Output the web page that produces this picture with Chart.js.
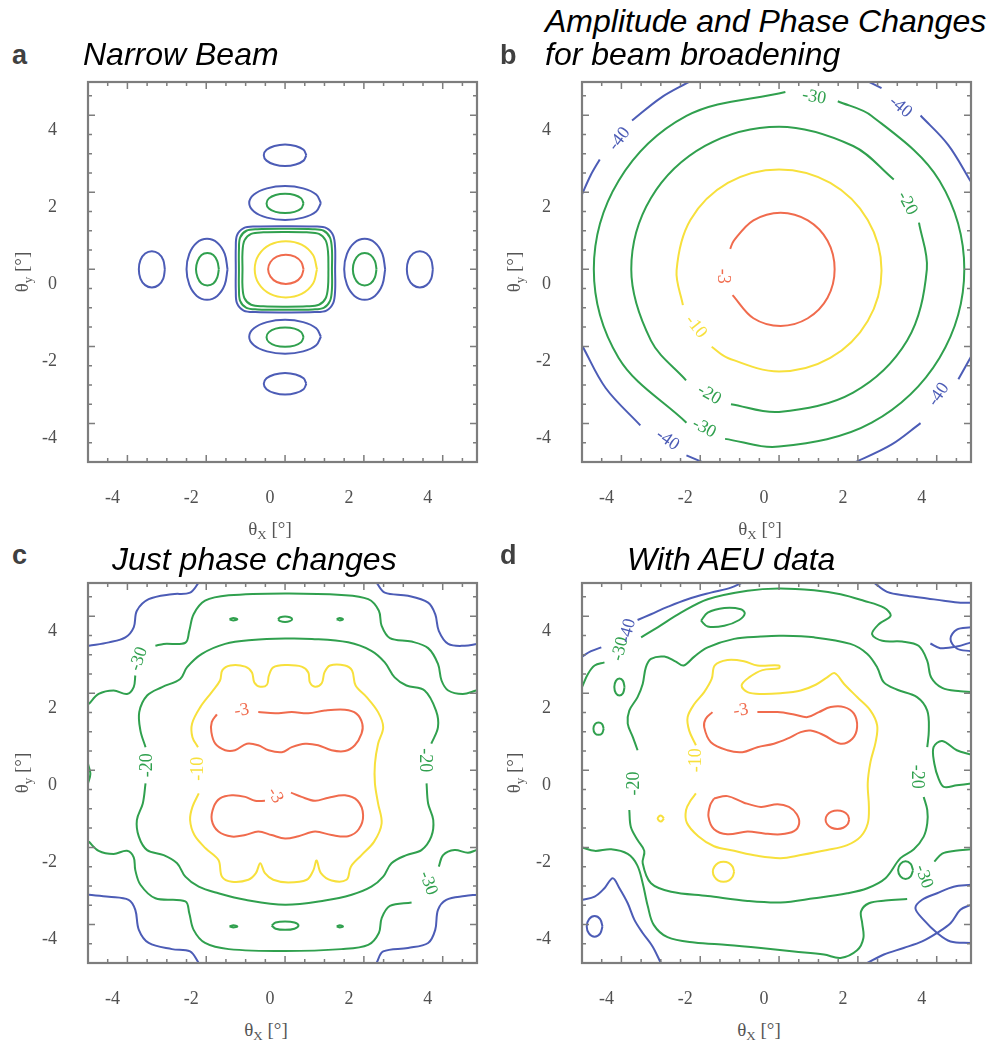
<!DOCTYPE html>
<html><head><meta charset="utf-8">
<script src="https://cdn.jsdelivr.net/npm/chart.js@4.4.1/dist/chart.umd.min.js"></script>
<style>
body{margin:0;background:#fff;width:990px;height:1048px;position:relative;overflow:hidden;font-family:"Liberation Sans",Arial,sans-serif}
canvas{position:absolute;filter:blur(0.5px)}
.ttl{position:absolute;font-style:italic;font-size:32px;color:#000;white-space:nowrap;line-height:1}
.let{position:absolute;font-weight:bold;font-size:27px;color:#404040;line-height:1}
.axx,.axy{position:absolute;font-family:"Liberation Serif","Times New Roman",serif;font-size:19px;color:#555;white-space:nowrap;line-height:20px;text-align:center;width:100px;height:20px}
.axy{transform:rotate(-90deg)}
.axx sub,.axy sub{font-size:13px;vertical-align:-4px;line-height:0}
</style></head>
<body>
<canvas id="pa" width="459" height="440" style="left:28px;top:72px"></canvas>
<canvas id="pb" width="459" height="440" style="left:522px;top:72px"></canvas>
<canvas id="pc" width="459" height="440" style="left:28px;top:573px"></canvas>
<canvas id="pd" width="459" height="440" style="left:522px;top:573px"></canvas>

<div class="let" style="left:12px;top:42px">a</div>
<div class="ttl" style="left:83px;top:38px">Narrow Beam</div>
<div class="let" style="left:500px;top:42px">b</div>
<div class="ttl" style="left:545px;top:5px">Amplitude and Phase Changes</div>
<div class="ttl" style="left:545px;top:38px">for beam broadening</div>
<div class="let" style="left:12px;top:542px">c</div>
<div class="ttl" style="left:112px;top:543px">Just phase changes</div>
<div class="let" style="left:500px;top:542px">d</div>
<div class="ttl" style="left:627px;top:543px">With AEU data</div>

<div class="axx" style="left:220px;top:519px">θ<sub>X</sub> [°]</div>
<div class="axx" style="left:710px;top:519px">θ<sub>X</sub> [°]</div>
<div class="axx" style="left:216px;top:1020px">θ<sub>X</sub> [°]</div>
<div class="axx" style="left:709px;top:1020px">θ<sub>X</sub> [°]</div>
<div class="axy" style="left:-28px;top:262px">θ<sub>y</sub> [°]</div>
<div class="axy" style="left:464px;top:262px">θ<sub>y</sub> [°]</div>
<div class="axy" style="left:-28px;top:763px">θ<sub>y</sub> [°]</div>
<div class="axy" style="left:464px;top:763px">θ<sub>y</sub> [°]</div>

<script>
// Axis ranges and tick labels (degrees)
const xRange = [-5, 4.87];
const yRange = [-5, 4.86];
const xTickValues = [-4, -2, 0, 2, 4];
const yTickValues = [-4, -2, 0, 2, 4];

// Contour level colours (dB)
const levelColors = {'-3': '#f06b4d', '-10': '#f7e03c', '-20': '#30a04e', '-30': '#30a04e', '-40': '#4c5cb6'};

// ---- a: narrow beam ----
const aLobeTopFar = [[.54,2.96],[.47,3.10],[.27,3.20],[0,3.24],[-.27,3.20],[-.47,3.10],[-.54,2.96],[-.47,2.82],[-.27,2.72],[0,2.68],[.27,2.72],[.47,2.82],[.54,2.96]];
const aLobeTop = [[.91,1.72],[.79,1.94],[.46,2.10],[0,2.16],[-.46,2.10],[-.79,1.94],[-.91,1.72],[-.79,1.50],[-.46,1.34],[0,1.28],[.46,1.34],[.79,1.50],[.91,1.72]];
const aLobeTopInner = [[.47,1.71],[.41,1.84],[.24,1.93],[0,1.96],[-.24,1.93],[-.41,1.84],[-.47,1.71],[-.41,1.58],[-.24,1.49],[0,1.46],[.24,1.49],[.41,1.58],[.47,1.71]];
const aLobeBottom = [[.91,-1.75],[.79,-1.53],[.46,-1.37],[0,-1.31],[-.46,-1.37],[-.79,-1.53],[-.91,-1.75],[-.79,-1.97],[-.46,-2.13],[0,-2.19],[.46,-2.13],[.79,-1.97],[.91,-1.75]];
const aLobeBottomInner = [[.47,-1.76],[.41,-1.63],[.24,-1.54],[0,-1.51],[-.24,-1.54],[-.41,-1.63],[-.47,-1.76],[-.41,-1.89],[-.24,-1.98],[0,-2.01],[.24,-1.98],[.41,-1.89],[.47,-1.76]];
const aLobeBottomFar = [[.54,-2.97],[.47,-2.83],[.27,-2.73],[0,-2.69],[-.27,-2.73],[-.47,-2.83],[-.54,-2.97],[-.47,-3.11],[-.27,-3.21],[0,-3.25],[.27,-3.21],[.47,-3.11],[.54,-2.97]];
const aLobeLeftFar = [[-3.05,0],[-3.09,.24],[-3.21,.41],[-3.38,.47],[-3.55,.41],[-3.67,.24],[-3.71,0],[-3.67,-.24],[-3.55,-.41],[-3.38,-.47],[-3.21,-.41],[-3.09,-.24],[-3.05,0]];
const aLobeLeft = [[-1.46,0],[-1.53,.40],[-1.72,.69],[-1.98,.79],[-2.24,.69],[-2.43,.40],[-2.50,0],[-2.43,-.40],[-2.24,-.69],[-1.98,-.79],[-1.72,-.69],[-1.53,-.40],[-1.46,0]];
const aLobeLeftInner = [[-1.68,0],[-1.72,.21],[-1.82,.37],[-1.97,.42],[-2.12,.37],[-2.22,.21],[-2.26,0],[-2.22,-.21],[-2.12,-.37],[-1.97,-.42],[-1.82,-.37],[-1.72,-.21],[-1.68,0]];
const aLobeRight = [[2.54,0],[2.47,.40],[2.28,.69],[2.02,.79],[1.76,.69],[1.57,.40],[1.50,0],[1.57,-.40],[1.76,-.69],[2.02,-.79],[2.28,-.69],[2.47,-.40],[2.54,0]];
const aLobeRightInner = [[2.32,0],[2.28,.21],[2.17,.37],[2.02,.42],[1.87,.37],[1.76,.21],[1.72,0],[1.76,-.21],[1.87,-.37],[2.02,-.42],[2.17,-.37],[2.28,-.21],[2.32,0]];
const aLobeRightFar = [[3.75,0],[3.71,.24],[3.59,.41],[3.42,.47],[3.25,.41],[3.13,.24],[3.09,0],[3.13,-.24],[3.25,-.41],[3.42,-.47],[3.59,-.41],[3.71,-.24],[3.75,0]];
const aMainOuter = [[1.27,0],[1.27,.55],[1.22,.88],[1.05,1.07],[.75,1.11],[0,1.12],[-.75,1.11],[-1.05,1.07],[-1.22,.88],[-1.25,.55],[-1.25,0],[-1.25,-.55],[-1.22,-.88],[-1.05,-1.07],[-.75,-1.11],[0,-1.12],[.75,-1.11],[1.05,-1.07],[1.22,-.88],[1.27,-.55],[1.27,0]];
const aMainGreen1 = [[1.19,0],[1.19,.5],[1.14,.82],[.98,1.0],[.7,1.04],[0,1.05],[-.7,1.04],[-.98,1.0],[-1.14,.82],[-1.17,.5],[-1.17,0],[-1.17,-.5],[-1.14,-.82],[-.98,-1.0],[-.7,-1.04],[0,-1.05],[.7,-1.04],[.98,-1.0],[1.14,-.82],[1.19,-.5],[1.19,0]];
const aMainGreen2 = [[1.1,0],[1.09,.45],[1.03,.75],[.86,.92],[.55,.96],[0,.97],[-.55,.96],[-.86,.92],[-1.03,.75],[-1.08,.45],[-1.08,0],[-1.08,-.45],[-1.03,-.75],[-.86,-.92],[-.55,-.96],[0,-.97],[.55,-.96],[.86,-.92],[1.03,-.75],[1.09,-.45],[1.1,0]];
const aMainYellow = [[.81,0],[.71,.37],[.42,.64],[.02,.73],[-.38,.64],[-.67,.37],[-.77,0],[-.67,-.37],[-.38,-.64],[.02,-.73],[.42,-.64],[.71,-.37],[.81,0]];
const aMainRed = [[.47,0],[.41,.19],[.25,.33],[.02,.38],[-.21,.33],[-.37,.19],[-.43,0],[-.37,-.19],[-.21,-.33],[.02,-.38],[.25,-.33],[.41,-.19],[.47,0]];

// ---- b: amplitude and phase changes ----
const bRed = [[-1.18,-.67],[-.65,-1.27],[.04,-1.47],[.73,-1.27],[1.23,-.74],[1.41,0],[1.23,.74],[.73,1.27],[.04,1.47],[-.65,1.27],[-1.15,.74],[-1.24,.53]];
const bYellow = [[-1.71,-2.01],[-1.30,-2.30],[0,-2.65],[1.30,-2.30],[2.25,-1.34],[2.60,-.03],[2.25,1.28],[1.30,2.24],[0,2.59],[-1.30,2.24],[-2.25,1.28],[-2.60,-.03],[-2.44,-.93]];
const bGreen20a = [[-1.22,-3.50],[0,-3.70],[1.88,-3.20],[3.25,-1.85],[3.75,0],[3.55,1.21]];
const bGreen20b = [[2.91,2.33],[1.88,3.20],[0,3.70],[-1.88,3.20],[-3.25,1.85],[-3.75,0],[-3.25,-1.85],[-2.36,-2.88]];
const bGreen30a = [[-1.37,-4.40],[0,-4.60],[2.35,-3.98],[4.07,-2.30],[4.70,0],[4.07,2.30],[2.35,3.98],[1.49,4.36]];
const bGreen30b = [[.16,4.60],[-2.35,3.98],[-4.07,2.30],[-4.70,0],[-4.07,-2.30],[-2.35,-3.98]];
const bBlueUL1 = [[-5.01,1.92],[-4.78,2.44],[-4.55,2.85]];
const bBlueUL2 = [[-3.73,3.86],[-3.0,4.45],[-2.27,4.87]];
const bBlueUR1 = [[2.19,4.91],[2.60,4.70]];
const bBlueUR2 = [[3.59,3.99],[4.29,3.23],[4.87,2.27]];
const bBlueLL1 = [[-4.98,-2.01],[-4.40,-3.08],[-3.52,-4.05]];
const bBlueLL2 = [[-2.35,-4.83],[-1.84,-5.05]];
const bBlueLR1 = [[1.84,-5.05],[2.85,-4.55],[3.59,-3.99]];
const bBlueLR2 = [[4.55,-2.85],[4.87,-2.27]];

// ---- c: phase-only changes ----
const cRedUpper = [[-.68,1.51],[-.25,1.48],[.17,1.51],[.59,1.48],[1.01,1.55],[1.52,1.57],[1.81,1.47],[1.96,1.21],[1.94,.95],[1.77,.65],[1.52,.50],[1.18,.52],[.84,.65],[.51,.69],[.17,.60],[-.08,.47],[-.42,.52],[-.68,.65],[-.97,.69],[-1.27,.52],[-1.52,.52],[-1.77,.69],[-1.87,.99],[-1.86,1.25],[-1.73,1.45]];
const cRedLower = [[.15,-.58],[.42,-.69],[.76,-.79],[1.10,-.71],[1.52,-.65],[1.84,-.79],[1.98,-1.16],[1.87,-1.53],[1.60,-1.71],[1.18,-1.68],[.76,-1.59],[.34,-1.71],[0,-1.77],[-.34,-1.68],[-.68,-1.59],[-1.01,-1.68],[-1.35,-1.72],[-1.69,-1.59],[-1.86,-1.29],[-1.81,-.95],[-1.65,-.73],[-1.35,-.65],[-1.01,-.69],[-.76,-.79],[-.51,-.79]];
const cYellow = [[-2.19,-.60],[-2.35,-.95],[-2.41,-1.29],[-2.30,-1.68],[-2.01,-2.03],[-1.69,-2.33],[-1.60,-2.76],[-1.35,-2.89],[-.93,-2.84],[-.74,-2.67],[-.63,-2.41],[-.51,-2.67],[-.30,-2.84],[.08,-2.91],[.55,-2.84],[.72,-2.59],[.80,-2.34],[.91,-2.67],[1.18,-2.86],[1.56,-2.84],[1.67,-2.50],[1.94,-2.20],[2.26,-1.85],[2.45,-1.38],[2.36,-.86],[2.28,-.34],[2.28,.17],[2.36,.69],[2.49,1.12],[2.36,1.51],[2.07,1.90],[1.79,2.20],[1.70,2.59],[1.52,2.72],[1.14,2.72],[1.00,2.54],[.93,2.26],[.76,2.17],[.63,2.28],[.59,2.54],[.42,2.69],[0,2.73],[-.30,2.67],[-.41,2.46],[-.46,2.22],[-.63,2.17],[-.78,2.28],[-.84,2.54],[-1.01,2.69],[-1.39,2.72],[-1.59,2.60],[-1.65,2.33],[-1.86,2.03],[-2.15,1.64],[-2.36,1.21],[-2.35,.86],[-2.21,.60]];
const cGreen20 = [[-3.54,-.34],[-3.61,-.86],[-3.76,-1.29],[-3.71,-1.72],[-3.50,-2.07],[-3.08,-2.20],[-2.74,-2.41],[-2.53,-2.76],[-2.19,-3.02],[-1.69,-3.19],[-1.01,-3.36],[0,-3.49],[1.01,-3.38],[1.69,-3.23],[2.19,-3.02],[2.49,-2.76],[2.70,-2.41],[3.08,-2.20],[3.46,-2.07],[3.71,-1.72],[3.76,-1.29],[3.63,-.86],[3.59,-.34]];
const cGreen20b = [[3.71,.69],[3.88,1.12],[3.83,1.55],[3.54,2.07],[3.08,2.20],[2.78,2.41],[2.53,2.80],[2.19,3.10],[1.60,3.32],[.68,3.41],[0,3.42],[-.84,3.38],[-1.52,3.28],[-2.11,3.02],[-2.49,2.67],[-2.66,2.37],[-3.12,2.16],[-3.50,1.94],[-3.70,1.51],[-3.67,1.03],[-3.54,.60]];
const cGreen30TopA = [[-4.98,1.72],[-4.73,1.98],[-4.35,2.07],[-4.01,1.98],[-3.84,2.16],[-3.80,2.46]];
const cGreen30TopB = [[-3.29,3.23],[-3.08,3.28],[-2.53,3.31],[-2.43,3.62],[-2.32,4.05],[-2.03,4.40],[-1.43,4.54],[0,4.59],[1.43,4.55],[2.11,4.44],[2.38,4.14],[2.45,3.75],[2.66,3.43],[3.21,3.34],[3.63,3.17],[3.88,2.76],[3.97,2.33],[4.14,2.07],[4.51,1.98],[4.85,2.07]];
const cGreen30BotA = [[-4.98,-1.85],[-4.73,-2.09],[-4.35,-2.17],[-4.01,-2.09],[-3.84,-2.26],[-3.80,-2.59],[-3.67,-2.97],[-3.29,-3.32],[-2.53,-3.40],[-2.43,-3.71],[-2.32,-4.14],[-2.03,-4.48],[-1.43,-4.64],[0,-4.69],[1.43,-4.64],[2.11,-4.53],[2.38,-4.22],[2.45,-3.84],[2.66,-3.52],[3.21,-3.43]];
const cGreen30BotB = [[3.90,-2.50],[4.01,-2.20],[4.30,-2.07],[4.64,-2.14],[4.85,-2.07]];
const cGreen30Edge = [[-5.0,.17],[-4.94,-.09],[-5.0,-.34]];
const cDotTopL = [[-1.41,3.92],[-1.31,3.95],[-1.21,3.92],[-1.31,3.89],[-1.41,3.92]];
const cDotTopC = [[-.18,3.92],[-.12,3.97],[0,3.99],[.12,3.97],[.18,3.92],[.12,3.87],[0,3.85],[-.12,3.87],[-.18,3.92]];
const cDotTopR = [[1.31,3.92],[1.39,3.95],[1.47,3.92],[1.39,3.89],[1.31,3.92]];
const cDotBotL = [[-1.41,-4.05],[-1.31,-4.02],[-1.21,-4.05],[-1.31,-4.08],[-1.41,-4.05]];
const cDotBotC = [[-.34,-4.03],[-.24,-3.95],[0,-3.92],[.24,-3.95],[.34,-4.03],[.24,-4.11],[0,-4.14],[-.24,-4.11],[-.34,-4.03]];
const cDotBotR = [[1.31,-4.05],[1.39,-4.02],[1.47,-4.05],[1.39,-4.08],[1.31,-4.05]];
const cBlueUL = [[-4.98,3.23],[-4.47,3.32],[-4.05,3.45],[-3.84,3.71],[-3.76,4.14],[-3.46,4.44],[-2.87,4.57],[-2.41,4.61],[-2.19,4.87]];
const cBlueUR = [[2.32,4.87],[2.53,4.61],[3.12,4.53],[3.63,4.35],[3.81,4.05],[3.90,3.62],[4.14,3.28],[4.56,3.23],[4.87,3.28]];
const cBlueLL = [[-4.98,-3.23],[-4.47,-3.28],[-3.97,-3.36],[-3.80,-3.62],[-3.71,-4.14],[-3.46,-4.48],[-2.87,-4.64],[-2.41,-4.70],[-2.19,-5.0]];
const cBlueLR = [[2.32,-5.0],[2.49,-4.70],[3.12,-4.61],[3.63,-4.48],[3.81,-4.14],[3.88,-3.62],[4.09,-3.36],[4.56,-3.26],[4.87,-3.23]];

// ---- d: with AEU data ----
const dRedUpper = [[-.55,1.51],[-.04,1.51],[.38,1.45],[.72,1.38],[1.01,1.51],[1.31,1.64],[1.65,1.64],[1.90,1.47],[1.98,1.12],[1.86,.82],[1.56,.69],[1.14,.91],[.80,1.03],[.55,.99],[.21,.82],[-.13,.69],[-.55,.60],[-.93,.47],[-1.31,.52],[-1.73,.73],[-1.90,1.12],[-1.86,1.34],[-1.69,1.51]];
const dRedLower = [[-1.65,-.73],[-1.31,-.67],[-.89,-.84],[-.46,-.95],[-.04,-.88],[.25,-.95],[.45,-1.14],[.51,-1.38],[.38,-1.58],[.04,-1.66],[-.38,-1.64],[-.80,-1.59],[-1.31,-1.66],[-1.65,-1.53],[-1.79,-1.21],[-1.75,-.91],[-1.65,-.73]];
const dRedSpot = [[1.78,-1.28],[1.74,-1.16],[1.63,-1.07],[1.48,-1.04],[1.33,-1.07],[1.22,-1.16],[1.18,-1.28],[1.22,-1.40],[1.33,-1.49],[1.48,-1.52],[1.63,-1.49],[1.74,-1.40],[1.78,-1.28]];
const dYellow = [[-2.11,.65],[-2.28,1.03],[-2.32,1.38],[-2.15,1.72],[-1.90,2.03],[-1.71,2.37],[-1.63,2.72],[-1.31,2.86],[-.89,2.83],[-.55,2.72],[0,2.72],[0,2.65],[-.42,2.60],[-.76,2.41],[-.95,2.20],[-.80,2.03],[-.46,1.98],[.04,2.00],[.55,2.07],[.93,2.22],[1.22,2.41],[1.41,2.52],[1.65,2.24],[1.98,1.90],[2.32,1.55],[2.49,1.16],[2.45,.73],[2.32,.22],[2.25,-.34],[2.28,-.95],[2.25,-1.38],[2.07,-1.72],[1.73,-1.94],[1.22,-2.07],[.55,-2.20],[.04,-2.28],[-.55,-2.22],[-1.14,-2.09],[-1.65,-1.97],[-2.05,-1.71],[-2.34,-1.36],[-2.36,-1.03],[-2.24,-.78],[-2.11,-.60]];
const dYellowSpot = [[-1.14,-2.63],[-1.18,-2.50],[-1.28,-2.40],[-1.41,-2.37],[-1.54,-2.40],[-1.64,-2.50],[-1.68,-2.63],[-1.64,-2.76],[-1.54,-2.86],[-1.41,-2.89],[-1.28,-2.86],[-1.18,-2.76],[-1.14,-2.63]];
const dYellowDot = [[-2.92,-1.25],[-3.0,-1.17],[-3.08,-1.25],[-3.0,-1.33],[-2.92,-1.25]];
const dGreen20a = [[-3.59,.52],[-3.71,.86],[-3.84,1.21],[-3.80,1.55],[-3.59,1.90],[-3.46,2.24],[-3.38,2.67],[-3.25,2.89],[-2.91,2.95],[-2.62,2.82],[-2.42,2.72],[-2.15,2.95],[-1.81,3.19],[-1.14,3.41],[-.46,3.47],[.04,3.49],[.89,3.45],[1.81,3.28],[2.24,3.02],[2.49,2.67],[2.66,2.28],[3.00,2.09],[3.50,1.90],[3.76,1.55],[3.80,1.03],[3.76,.60]];
const dGreen20b = [[3.67,-.69],[3.76,-1.03],[3.76,-1.38],[3.67,-1.72],[3.42,-2.05],[3.08,-2.28],[2.70,-2.80],[2.24,-3.06],[1.73,-3.19],[.89,-3.32],[.04,-3.43],[-.80,-3.39],[-1.81,-3.26],[-2.74,-3.15],[-3.25,-2.93],[-3.46,-2.41],[-3.42,-2.09],[-3.59,-1.81],[-3.76,-1.47],[-3.80,-1.03]];
const dGreen30TopA = [[-5.0,2.16],[-4.85,2.50],[-4.68,2.72],[-4.43,2.80]];
const dGreen30TopB = [[-3.50,3.45],[-3.08,3.71],[-2.49,4.09],[-1.81,4.44],[-.80,4.66],[0,4.72],[.89,4.67],[1.56,4.57],[2.15,4.40],[2.66,4.22],[2.83,4.01],[2.53,3.79],[2.36,3.53],[2.62,3.36],[3.12,3.34],[3.54,3.23],[3.76,2.84],[3.86,2.41],[4.14,2.14],[4.60,2.05],[4.87,2.03]];
const dGreen30Right = [[4.87,.41],[4.51,.52],[4.14,.76],[3.92,.60],[3.94,.17],[4.05,-.22],[4.18,-.43],[4.51,-.39],[4.87,-.34]];
const dGreen30BotA = [[-5.0,-2.0],[-4.68,-2.09],[-4.26,-2.05],[-3.84,-2.17],[-3.60,-2.46],[-3.46,-2.93],[-3.33,-3.53],[-3.18,-4.01],[-2.83,-4.33],[-2.15,-4.47],[-1.31,-4.53],[-.46,-4.61],[.38,-4.70],[1.14,-4.78],[1.56,-4.87],[1.98,-4.67],[2.14,-4.35],[2.11,-3.97],[2.08,-3.66],[2.28,-3.45],[2.70,-3.38],[3.25,-3.34]];
const dGreen30BotB = [[3.94,-2.37],[4.14,-2.16],[4.47,-2.09],[4.87,-2.05]];
const dGreenTopLoop = [[-1.98,3.88],[-1.81,4.09],[-1.39,4.21],[-.97,4.18],[-.87,4.07],[-1.01,3.90],[-1.39,3.75],[-1.81,3.73],[-1.98,3.88]];
const dGreenSpot1 = [[-3.92,2.16],[-3.96,2.32],[-4.05,2.38],[-4.14,2.32],[-4.18,2.16],[-4.14,2.0],[-4.05,1.94],[-3.96,2.0],[-3.92,2.16]];
const dGreenSpot2 = [[-4.45,1.08],[-4.49,1.2],[-4.58,1.24],[-4.67,1.2],[-4.71,1.08],[-4.67,.96],[-4.58,.92],[-4.49,.96],[-4.45,1.08]];
const dGreenSpot3 = [[3.40,-2.59],[3.34,-2.43],[3.21,-2.36],[3.08,-2.43],[3.02,-2.59],[3.08,-2.75],[3.21,-2.82],[3.34,-2.75],[3.40,-2.59]];
const dBlueUL1 = [[-5.0,2.95],[-4.77,3.09],[-4.51,3.19]];
const dBlueUL2 = [[-3.59,3.90],[-3.25,4.05],[-2.83,4.24],[-2.32,4.44],[-1.73,4.61],[-1.22,4.74],[-.93,4.87]];
const dBlueUR1 = [[2.41,4.87],[2.74,4.63],[3.25,4.53],[3.76,4.46],[4.18,4.40],[4.60,4.35],[4.87,4.35]];
const dBlueURLoop = [[4.87,3.71],[4.51,3.65],[4.35,3.41],[4.51,3.16],[4.87,3.09]];
const dBlueUR2 = [[4.87,3.32],[4.51,3.21],[4.09,3.17],[3.84,3.29]];
const dBlueLL = [[-5.0,-3.36],[-4.68,-3.28],[-4.43,-3.06],[-4.22,-2.80],[-4.05,-3.06],[-3.84,-3.45],[-3.67,-3.88],[-3.46,-4.22],[-3.21,-4.57],[-3.0,-5.0]];
const dBlueLLSpot = [[-4.48,-4.05],[-4.54,-3.86],[-4.68,-3.78],[-4.82,-3.86],[-4.88,-4.05],[-4.82,-4.24],[-4.68,-4.32],[-4.54,-4.24],[-4.48,-4.05]];
const dBlueLR1 = [[2.24,-5.0],[2.66,-4.78],[3.16,-4.61],[3.63,-4.44],[4.01,-4.22],[4.35,-3.97],[4.60,-3.62],[4.87,-3.49]];
const dBlueLR2 = [[4.87,-2.97],[4.43,-3.02],[4.01,-3.19],[3.63,-3.36],[3.46,-3.58],[3.67,-3.88],[4.01,-4.22],[4.35,-4.44],[4.87,-4.48]];

// Contour lists per panel: [level, points]
const panelAContours = [
  ['-40', aLobeTopFar], ['-40', aLobeTop], ['-30', aLobeTopInner],
  ['-40', aLobeBottom], ['-30', aLobeBottomInner], ['-40', aLobeBottomFar],
  ['-40', aLobeLeftFar], ['-40', aLobeLeft], ['-30', aLobeLeftInner],
  ['-40', aLobeRight], ['-30', aLobeRightInner], ['-40', aLobeRightFar],
  ['-40', aMainOuter], ['-30', aMainGreen1], ['-20', aMainGreen2],
  ['-10', aMainYellow], ['-3', aMainRed]
];
const panelBContours = [
  ['-3', bRed], ['-10', bYellow], ['-20', bGreen20a], ['-20', bGreen20b],
  ['-30', bGreen30a], ['-30', bGreen30b],
  ['-40', bBlueUL1], ['-40', bBlueUL2], ['-40', bBlueUR1], ['-40', bBlueUR2],
  ['-40', bBlueLL1], ['-40', bBlueLL2], ['-40', bBlueLR1], ['-40', bBlueLR2]
];
const panelCContours = [
  ['-3', cRedUpper], ['-3', cRedLower], ['-10', cYellow], ['-20', cGreen20], ['-20', cGreen20b],
  ['-30', cGreen30TopA], ['-30', cGreen30TopB], ['-30', cGreen30BotA], ['-30', cGreen30BotB], ['-30', cGreen30Edge],
  ['-30', cDotTopL], ['-30', cDotTopC], ['-30', cDotTopR], ['-30', cDotBotL], ['-30', cDotBotC], ['-30', cDotBotR],
  ['-40', cBlueUL], ['-40', cBlueUR], ['-40', cBlueLL], ['-40', cBlueLR]
];
const panelDContours = [
  ['-3', dRedUpper], ['-3', dRedLower], ['-3', dRedSpot],
  ['-10', dYellow], ['-10', dYellowSpot], ['-10', dYellowDot],
  ['-20', dGreen20a], ['-20', dGreen20b],
  ['-30', dGreen30TopA], ['-30', dGreen30TopB], ['-30', dGreen30Right], ['-30', dGreen30BotA], ['-30', dGreen30BotB],
  ['-30', dGreenTopLoop], ['-30', dGreenSpot1], ['-30', dGreenSpot2], ['-30', dGreenSpot3],
  ['-40', dBlueUL1], ['-40', dBlueUL2], ['-40', dBlueUR1], ['-40', dBlueURLoop], ['-40', dBlueUR2],
  ['-40', dBlueLL], ['-40', dBlueLLSpot], ['-40', dBlueLR1], ['-40', dBlueLR2]
];

// Inline contour labels: [text, x, y, rotation deg, level]
const panelALabels = [];
const panelBLabels = [
  ['-3', -1.44, -0.18, 90, '-3'], ['-10', -2.11, -1.49, 52, '-10'],
  ['-20', 3.25, 1.71, 62, '-20'], ['-20', -1.77, -3.25, 30, '-20'],
  ['-30', 0.89, 4.47, 10, '-30'], ['-30', -1.90, -4.12, 28, '-30'],
  ['-40', -4.05, 3.38, -52, '-40'], ['-40', 3.08, 4.21, 40, '-40'],
  ['-40', -2.83, -4.43, 35, '-40'], ['-40', 4.05, -3.25, -55, '-40']
];
const panelCLabels = [
  ['-3', -1.10, 1.55, -10, '-3'], ['-3', -0.25, -0.65, 60, '-3'],
  ['-10', -2.19, 0.04, -90, '-10'], ['-20', -3.50, 0.13, -90, '-20'], ['-20', 3.54, 0.26, 90, '-20'],
  ['-30', -3.71, 2.89, -70, '-30'], ['-30', 3.63, -2.93, 70, '-30']
];
const panelDLabels = [
  ['-3', -0.97, 1.55, -10, '-3'], ['-10', -2.11, 0.26, -90, '-10'],
  ['-20', -3.67, -0.34, -90, '-20'], ['-20', 3.49, -0.17, 90, '-20'],
  ['-30', -4.03, 3.15, -75, '-30'], ['-40', -3.84, 3.62, -75, '-40'],
  ['-30', 3.67, -2.76, 70, '-30']
];

// Box with inward ticks on all four sides
const framePlugin = {
  id: 'frame',
  afterDatasetsDraw(chart) {
    const {ctx, chartArea: a, scales: {x, y}} = chart;
    ctx.save();
    ctx.strokeStyle = '#7d7d7d';
    ctx.lineWidth = 1.5;
    for (let i = -10; i <= 9; i++) {
      const v = i / 2;
      const len = (i % 4 === 0) ? 7 : 4;
      const px = x.getPixelForValue(v);
      if (px > a.left + 1 && px < a.right - 1) {
        ctx.beginPath();
        ctx.moveTo(px, a.bottom); ctx.lineTo(px, a.bottom - len);
        ctx.moveTo(px, a.top); ctx.lineTo(px, a.top + len);
        ctx.stroke();
      }
      const py = y.getPixelForValue(v);
      if (py > a.top + 1 && py < a.bottom - 1) {
        ctx.beginPath();
        ctx.moveTo(a.left, py); ctx.lineTo(a.left + len, py);
        ctx.moveTo(a.right, py); ctx.lineTo(a.right - len, py);
        ctx.stroke();
      }
    }
    ctx.lineWidth = 2.2;
    ctx.strokeRect(a.left, a.top, a.right - a.left, a.bottom - a.top);
    ctx.restore();
  }
};

function labelPlugin(items) {
  return {
    id: 'contourLabels',
    afterDatasetsDraw(chart) {
      const {ctx, scales: {x, y}} = chart;
      ctx.save();
      ctx.font = '18px "Liberation Serif", serif';
      ctx.textAlign = 'center';
      ctx.textBaseline = 'middle';
      for (const [text, vx, vy, rot, lvl] of items) {
        ctx.save();
        ctx.translate(x.getPixelForValue(vx), y.getPixelForValue(vy));
        ctx.rotate(rot * Math.PI / 180);
        ctx.fillStyle = levelColors[lvl];
        ctx.fillText(text, 0, 0);
        ctx.restore();
      }
      ctx.restore();
    }
  };
}

const tickFont = {family: '"Liberation Serif", "Times New Roman", serif', size: 18};

// Fixed axis boxes so every panel gets the same plot rectangle
function fixBox(size, horizontal) {
  return s => {
    if (horizontal) s.height = size; else s.width = size;
    s.paddingTop = 0; s.paddingBottom = 0; s.paddingLeft = 0; s.paddingRight = 0;
  };
}

function drawPanel(id, contours, labels) {
  const datasets = contours.map(([lvl, pts]) => ({
    data: pts.map(([x, y]) => ({x, y})),
    showLine: true,
    borderColor: levelColors[lvl],
    borderWidth: 2,
    pointRadius: 0,
    tension: 0.35,
    fill: false
  }));
  new Chart(document.getElementById(id), {
    type: 'scatter',
    data: {datasets},
    options: {
      responsive: false,
      animation: false,
      devicePixelRatio: 1,
      layout: {padding: {top: 10, right: 10, left: 0, bottom: 0}},
      plugins: {legend: {display: false}, tooltip: {enabled: false}},
      scales: {
        x: {
          type: 'linear', min: xRange[0], max: xRange[1],
          grid: {display: false, drawTicks: false}, border: {display: false},
          afterBuildTicks: s => { s.ticks = xTickValues.map(v => ({value: v})); },
          afterFit: fixBox(50, true),
          ticks: {padding: 25, labelOffset: -15, color: '#505050', font: tickFont, maxRotation: 0, autoSkip: false, callback: v => String(v)}
        },
        y: {
          type: 'linear', min: yRange[0], max: yRange[1],
          grid: {display: false, drawTicks: false}, border: {display: false},
          afterBuildTicks: s => { s.ticks = yTickValues.map(v => ({value: v})); },
          afterFit: fixBox(60, false),
          ticks: {padding: 31, labelOffset: 15, color: '#505050', font: tickFont, autoSkip: false, callback: v => String(v)}
        }
      }
    },
    plugins: [framePlugin, labelPlugin(labels)]
  });
}

drawPanel('pa', panelAContours, panelALabels);
drawPanel('pb', panelBContours, panelBLabels);
drawPanel('pc', panelCContours, panelCLabels);
drawPanel('pd', panelDContours, panelDLabels);
</script>
</body></html>
